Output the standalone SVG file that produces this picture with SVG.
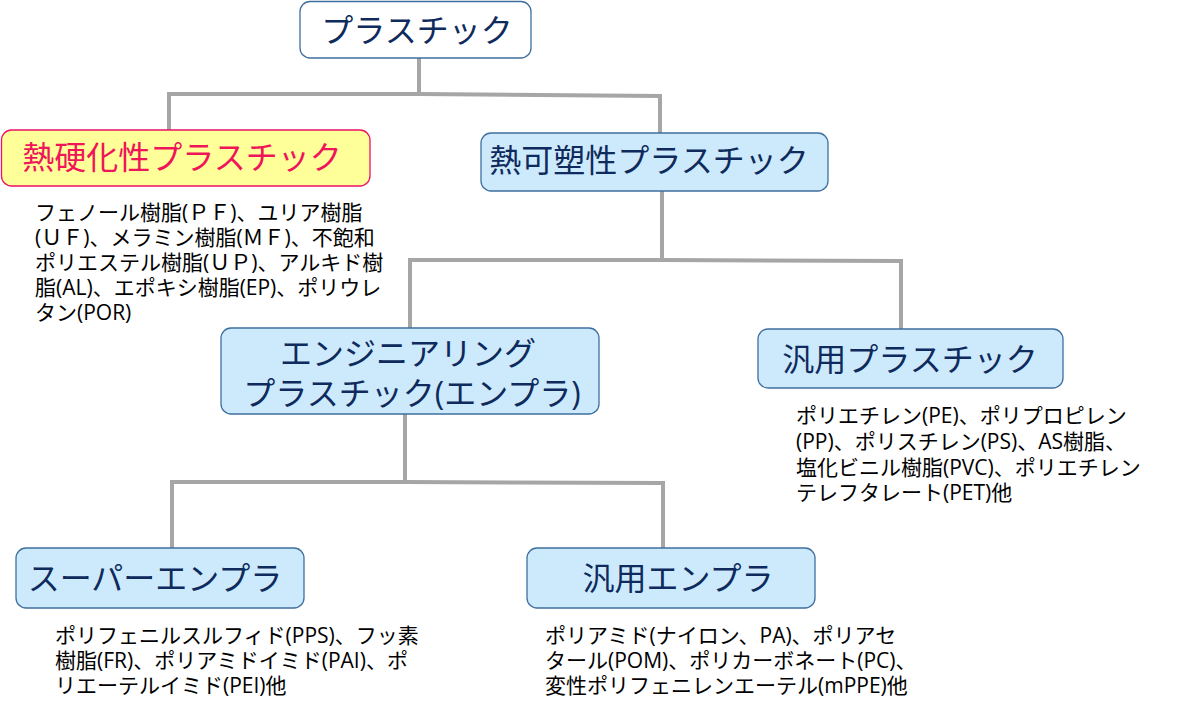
<svg xmlns="http://www.w3.org/2000/svg" width="1177" height="712" viewBox="0 0 1177 712">
<style>
.box{fill:#cdeafc;stroke:#3f6f9f;stroke-width:1.3}
.title{font-family:"Open Sans","Noto Sans CJK JP",sans-serif;font-size:32px;fill:#0f2a5c;text-anchor:middle}
.body{font-family:"Open Sans","Noto Sans CJK JP",sans-serif;font-size:21px;fill:#000}
.conn{fill:none;stroke:#a6a6a6;stroke-width:4}
</style>
<rect width="1177" height="712" fill="#fff"/>
<g id="connectors">
<polyline class="conn" points="419,58 419,94"/>
<polyline class="conn" points="169,130 169,94 419,94 660,96 660,133"/>
<polyline class="conn" points="662,191 662,260"/>
<polyline class="conn" points="410,328 410,260 662,260 901,261 901,330"/>
<polyline class="conn" points="405,414 405,482"/>
<polyline class="conn" points="172,548 172,482 405,482 663,483 663,548"/>
</g>
<g id="root">
<rect x="300" y="1.5" width="231" height="56.5" rx="10" fill="#fff" stroke="#3f6f9f" stroke-width="1.3"/>
<text class="title" x="417" y="42">プラスチック</text>
</g>
<g id="thermoset">
<rect x="1.5" y="130" width="368.5" height="56" rx="10" fill="#ffff99" stroke="#ee1166" stroke-width="1.3"/>
<text class="title" x="182" y="169" style="fill:#f0145a">熱硬化性プラスチック</text>
<text class="body"><tspan x="35" y="220">フェノール樹脂(ＰＦ)、ユリア樹脂</tspan><tspan x="35" y="245">(ＵＦ)、メラミン樹脂(ＭＦ)、不飽和</tspan><tspan x="35" y="270">ポリエステル樹脂(ＵＰ)、アルキド樹</tspan><tspan x="35" y="295">脂(AL)、エポキシ樹脂(EP)、ポリウレ</tspan><tspan x="35" y="320">タン(POR)</tspan></text>
</g>
<g id="thermoplastic">
<rect class="box" x="481" y="133" width="347" height="58" rx="10"/>
<text class="title" x="649" y="172">熱可塑性プラスチック</text>
</g>
<g id="engplastic">
<rect class="box" x="221" y="328" width="378" height="86" rx="10"/>
<text class="title" x="408" y="365">エンジニアリング</text>
<text class="title" x="412" y="405">プラスチック(エンプラ)</text>
</g>
<g id="commodity">
<rect class="box" x="758" y="329" width="305" height="59" rx="10"/>
<text class="title" x="910" y="371">汎用プラスチック</text>
<text class="body"><tspan x="796" y="423">ポリエチレン(PE)、ポリプロピレン</tspan><tspan x="796" y="449">(PP)、ポリスチレン(PS)、AS樹脂、</tspan><tspan x="796" y="475">塩化ビニル樹脂(PVC)、ポリエチレン</tspan><tspan x="796" y="500">テレフタレート(PET)他</tspan></text>
</g>
<g id="superengplastic">
<rect class="box" x="16" y="548" width="288" height="60" rx="10"/>
<text class="title" x="155" y="590">スーパーエンプラ</text>
<text class="body"><tspan x="55" y="643">ポリフェニルスルフィド(PPS)、フッ素</tspan><tspan x="55" y="668">樹脂(FR)、ポリアミドイミド(PAI)、ポ</tspan><tspan x="55" y="693">リエーテルイミド(PEI)他</tspan></text>
</g>
<g id="generalengplastic">
<rect class="box" x="527" y="548" width="288" height="60" rx="10"/>
<text class="title" x="678" y="590">汎用エンプラ</text>
<text class="body"><tspan x="545" y="643">ポリアミド(ナイロン、PA)、ポリアセ</tspan><tspan x="545" y="668">タール(POM)、ポリカーボネート(PC)、</tspan><tspan x="545" y="693">変性ポリフェニレンエーテル(mPPE)他</tspan></text>
</g>
</svg>
